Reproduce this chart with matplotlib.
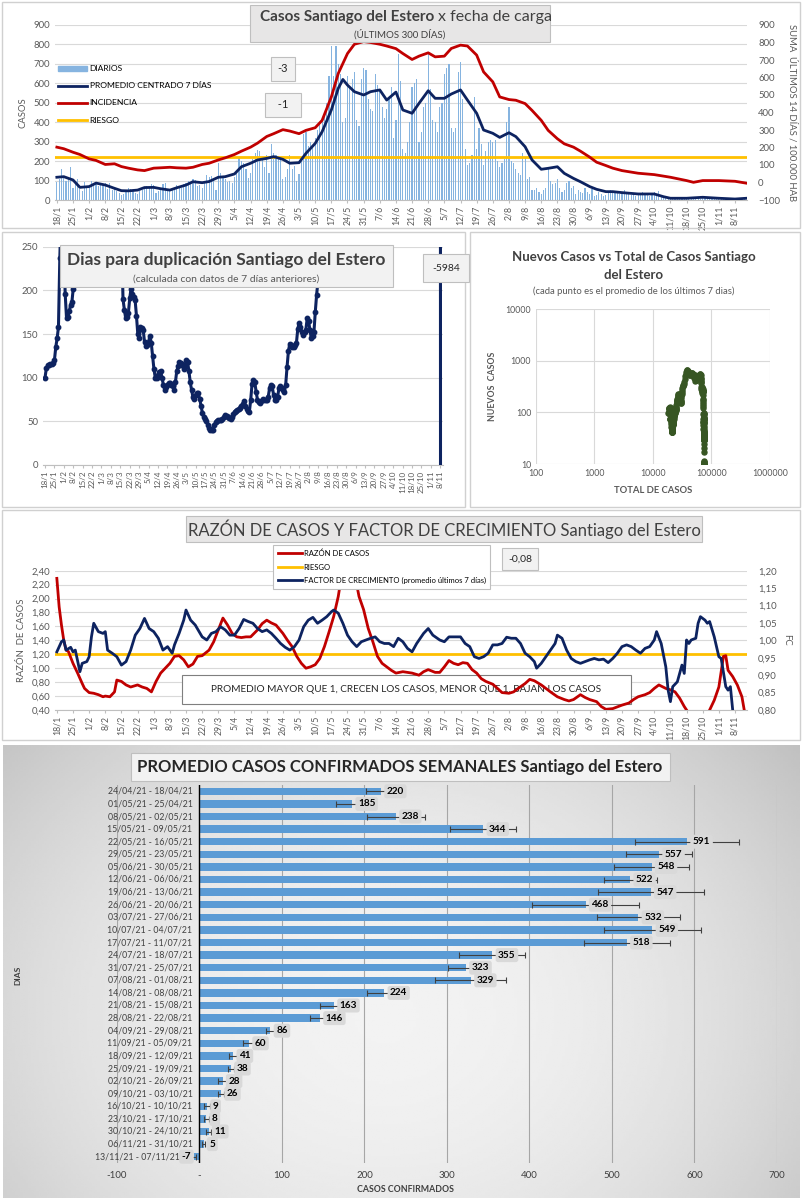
import datetime as dt
import numpy as np
import pandas as pd
import matplotlib
matplotlib.use('Agg')
import matplotlib.pyplot as plt
import matplotlib.transforms as mtransforms
from matplotlib.patches import Rectangle, Patch
from matplotlib.lines import Line2D
from matplotlib.ticker import FixedLocator, FixedFormatter

plt.rcParams['font.family'] = ['Lato', 'DejaVu Sans']

W, H = 803, 1200
START = dt.date(2021, 1, 18)

# ── datos ──
tick_dates = ['18/1', '25/1', '1/2', '8/2', '15/2', '22/2', '1/3', '8/3', '15/3', '22/3',
              '29/3', '5/4', '12/4', '19/4', '26/4', '3/5', '10/5', '17/5', '24/5', '31/5',
              '7/6', '14/6', '21/6', '28/6', '5/7', '12/7', '19/7', '26/7', '2/8', '9/8',
              '16/8', '23/8', '30/8', '6/9', '13/9', '20/9', '27/9', '4/10', '11/10', '18/10',
              '25/10', '1/11', '8/11']

# casos diarios (18/1 .. 13/11), una fila por semana
daily_cases = [
    95, 110, 160, 125, 100, 115, 170,
    60, 90, 110, 55, 45, 95, 65,
    60, 100, 85, 90, 70, 75, 80,
    85, 55, 90, 50, 60, 45, 35,
    25, 30, 40, 60, 55, 50, 35,
    30, 45, 50, 65, 70, 60, 80,
    75, 35, 45, 55, 80, 85, 55,
    45, 50, 60, 75, 70, 60, 80,
    85, 100, 95, 110, 105, 70, 75,
    60, 95, 130, 120, 125, 110, 50,
    190, 140, 120, 110, 95, 100, 85,
    120, 150, 215, 200, 190, 160, 115,
    140, 210, 240, 255, 250, 220, 170,
    230, 140, 290, 240, 230, 220, 210,
    110, 120, 160, 230, 160, 175, 100,
    135, 205, 340, 350, 280, 300, 270,
    320, 360, 400, 420, 440, 500, 640,
    790, 640, 790, 700, 650, 400, 420,
    640, 580, 620, 660, 410, 380, 620,
    680, 670, 520, 470, 460, 650, 590,
    570, 480, 420, 470, 530, 580, 320,
    410, 750, 610, 260, 240, 300, 400,
    580, 600, 620, 300, 350, 480, 500,
    750, 570, 410, 400, 350, 480, 500,
    650, 680, 700, 370, 350, 370, 660,
    710, 520, 260, 180, 190, 230, 530,
    260, 370, 290, 180, 250, 300, 310,
    300, 310, 200, 170, 190, 210, 400,
    480, 200, 190, 160, 140, 130, 240,
    220, 110, 120, 50, 50, 60, 40,
    30, 50, 60, 170, 100, 80, 90,
    110, 60, 40, 50, 90, 100, 60,
    70, 30, 50, 40, 35, 60, 40,
    30, 55, 20, 25, 40, 30, 20,
    25, 45, 50, 40, 45, 35, 30,
    35, 50, 40, 35, 25, 30, 20,
    30, 35, 40, 25, 30, 20, 35,
    40, 30, 45, 25, 15, 10, 5,
    10, 8, 5, 10, 12, 6, 4,
    8, 10, 12, 15, 10, 8, 5,
    12, 18, 10, 8, 6, 5, 4,
    3, 5, 8, 6, 4, 3, 2,
    2, 3, 0, 4, 3, 2,
]

avg7_dates = ['18/1', '21/1', '25/1', '28/1', '1/2', '4/2', '8/2', '12/2', '15/2', '18/2',
              '22/2', '25/2', '1/3', '4/3', '8/3', '11/3', '15/3', '18/3', '22/3', '25/3',
              '29/3', '1/4', '5/4', '8/4', '12/4', '15/4', '19/4', '22/4', '26/4', '29/4',
              '3/5', '6/5', '10/5', '13/5', '17/5', '20/5', '22/5', '24/5', '27/5', '31/5',
              '3/6', '7/6', '10/6', '14/6', '17/6', '21/6', '24/6', '28/6', '1/7', '5/7',
              '8/7', '12/7', '15/7', '19/7', '22/7', '26/7', '29/7', '2/8', '5/8', '9/8',
              '12/8', '16/8', '19/8', '23/8', '26/8', '30/8', '2/9', '6/9', '9/9', '13/9',
              '16/9', '20/9', '27/9', '4/10', '8/10', '11/10', '18/10', '25/10', '1/11', '8/11',
              '13/11']
avg7_vals = [117, 120, 103, 65, 69, 87, 77, 60, 48, 47,
             51, 64, 65, 58, 51, 63, 77, 94, 89, 95,
             117, 120, 134, 171, 189, 206, 214, 223, 209, 189,
             192, 240, 291, 351, 463, 574, 620, 591, 557, 540,
             557, 566, 514, 555, 463, 446, 497, 562, 523, 523,
             545, 566, 514, 446, 360, 343, 322, 346, 326, 274,
             206, 158, 163, 171, 137, 111, 94, 69, 55, 43,
             43, 38, 31, 31, 17, 9, 9, 14, 9, 5,
             9]

incid_dates = ['18/1', '21/1', '25/1', '28/1', '1/2', '4/2', '8/2', '12/2', '15/2', '18/2',
               '22/2', '25/2', '1/3', '4/3', '8/3', '11/3', '15/3', '18/3', '22/3', '25/3',
               '29/3', '1/4', '5/4', '8/4', '12/4', '15/4', '19/4', '22/4', '26/4', '29/4',
               '3/5', '6/5', '10/5', '13/5', '17/5', '20/5', '24/5', '27/5', '31/5', '3/6',
               '7/6', '10/6', '14/6', '17/6', '21/6', '24/6', '28/6', '1/7', '5/7', '8/7',
               '12/7', '15/7', '19/7', '22/7', '26/7', '29/7', '2/8', '5/8', '9/8', '12/8',
               '16/8', '19/8', '23/8', '26/8', '30/8', '2/9', '6/9', '9/9', '13/9', '16/9',
               '20/9', '27/9', '4/10', '11/10', '18/10', '21/10', '25/10', '1/11', '8/11', '13/11']
incid_vals = [202, 193, 173, 160, 135, 126, 103, 107, 91, 82,
              72, 68, 82, 84, 87, 84, 82, 87, 103, 110,
              129, 141, 160, 179, 202, 225, 263, 279, 302, 294,
              279, 298, 313, 355, 489, 623, 737, 790, 805, 800,
              790, 780, 765, 737, 703, 722, 741, 718, 722, 766,
              785, 780, 728, 632, 575, 489, 474, 470, 451, 412,
              355, 298, 250, 221, 202, 179, 145, 116, 97, 82,
              68, 53, 45, 30, 11, 1, 11, 11, 7, -4]
riesgo_casos = 222

# días para duplicación
dup_days = list(range(0, 23)) + [56] + list(range(57, 205)) + [294, 295]
dup_vals = [100, 111, 114, 115, 116, 116, 117, 120, 135, 145, 158, 237, 290, 320, 260, 196,
            168, 169, 176, 183, 187, 202, 280,
            300,
            260, 190, 178, 168, 170, 174, 191, 202, 196, 192,
            189, 171, 150, 145, 158, 157, 155, 141, 136, 137,
            141, 148, 140, 125, 110, 100, 100, 103, 106, 108,
            100, 92, 86, 89, 92, 94, 94, 92, 90, 86,
            95, 108, 113, 118, 117, 115, 110, 113, 120, 118,
            108, 95, 86, 78, 76, 80, 82, 82, 76, 68,
            60, 55, 53, 50, 46, 42, 40, 40, 40, 46,
            49, 50, 51, 52, 52, 53, 55, 57, 56, 55,
            54, 53, 55, 58, 61, 62, 63, 64, 65, 67,
            70, 73, 68, 64, 62, 61, 75, 93, 97, 95,
            84, 75, 72, 71, 73, 76, 75, 74, 75, 78,
            88, 92, 90, 80, 74, 75, 78, 88, 90, 88,
            86, 84, 92, 112, 130, 139, 137, 135, 135, 137,
            140, 156, 163, 158, 152, 149, 152, 155, 168, 165,
            155, 145, 148, 152, 175, 195, 210, 280,
            1000, -5984]

total_at_start = 18300

# razón de casos y factor de crecimiento
razon_dates = ['18/1', '19/1', '20/1', '21/1', '22/1', '23/1', '25/1', '27/1', '29/1', '30/1',
               '1/2', '3/2', '5/2', '7/2', '8/2', '10/2', '12/2', '13/2', '15/2', '17/2',
               '19/2', '22/2', '24/2', '26/2', '28/2', '2/3', '4/3', '6/3', '8/3', '10/3',
               '12/3', '14/3', '16/3', '18/3', '20/3', '22/3', '25/3', '27/3', '29/3', '31/3',
               '2/4', '4/4', '6/4', '8/4', '10/4', '12/4', '15/4', '17/4', '19/4', '21/4',
               '23/4', '26/4', '28/4', '30/4', '2/5', '4/5', '6/5', '8/5', '10/5', '12/5',
               '14/5', '16/5', '18/5', '20/5', '22/5', '24/5', '26/5', '28/5', '29/5', '31/5',
               '2/6', '4/6', '6/6', '8/6', '10/6', '12/6', '14/6', '17/6', '21/6', '24/6',
               '26/6', '28/6', '1/7', '3/7', '5/7', '7/7', '9/7', '11/7', '13/7', '15/7',
               '17/7', '19/7', '21/7', '23/7', '26/7', '28/7', '30/7', '2/8', '4/8', '6/8',
               '9/8', '11/8', '13/8', '16/8', '18/8', '20/8', '23/8', '26/8', '28/8', '30/8',
               '2/9', '4/9', '6/9', '9/9', '11/9', '13/9', '16/9', '20/9', '23/9', '25/9',
               '27/9', '30/9', '2/10', '4/10', '6/10', '9/10', '11/10', '13/10', '15/10', '17/10',
               '18/10', '21/10', '25/10', '28/10', '30/10', '1/11', '3/11', '4/11', '5/11', '7/11',
               '9/11', '11/11', '12/11', '13/11']
razon_vals = [2.29, 1.88, 1.62, 1.40, 1.26, 1.24, 1.07, 0.93, 0.78, 0.71,
              0.65, 0.64, 0.62, 0.59, 0.60, 0.59, 0.66, 0.83, 0.81, 0.76,
              0.73, 0.76, 0.73, 0.71, 0.66, 0.81, 0.93, 1.00, 1.07, 1.17,
              1.18, 1.12, 1.02, 1.06, 1.17, 1.18, 1.26, 1.38, 1.55, 1.72,
              1.62, 1.50, 1.45, 1.44, 1.45, 1.45, 1.55, 1.64, 1.69, 1.65,
              1.62, 1.50, 1.40, 1.31, 1.17, 1.07, 1.00, 1.02, 1.05, 1.14,
              1.31, 1.52, 1.74, 2.03, 2.45, 2.60, 2.50, 2.20, 2.03, 1.84,
              1.57, 1.38, 1.17, 1.07, 1.02, 0.97, 0.93, 0.95, 0.93, 0.90,
              0.95, 0.98, 0.94, 0.94, 1.02, 1.11, 1.07, 1.05, 1.08, 1.07,
              0.98, 0.93, 0.85, 0.81, 0.77, 0.71, 0.65, 0.64, 0.66, 0.71,
              0.78, 0.84, 0.82, 0.76, 0.71, 0.66, 0.59, 0.55, 0.53, 0.55,
              0.62, 0.58, 0.55, 0.52, 0.45, 0.41, 0.42, 0.47, 0.50, 0.55,
              0.59, 0.62, 0.65, 0.71, 0.76, 0.71, 0.69, 0.66, 0.57, 0.45,
              0.40, 0.25, 0.20, 0.40, 0.54, 0.73, 1.17, 1.18, 0.97, 0.88,
              0.76, 0.59, 0.40, 0.25]
riesgo_razon = 1.2

fc_dates = ['18/1', '20/1', '21/1', '22/1', '24/1', '25/1', '26/1', '28/1', '29/1', '31/1',
            '1/2', '2/2', '3/2', '5/2', '7/2', '8/2', '9/2', '11/2', '13/2', '15/2',
            '17/2', '19/2', '21/2', '23/2', '25/2', '27/2', '1/3', '3/3', '5/3', '7/3',
            '9/3', '10/3', '12/3', '14/3', '15/3', '17/3', '19/3', '22/3', '24/3', '26/3',
            '28/3', '30/3', '1/4', '3/4', '5/4', '7/4', '9/4', '11/4', '13/4', '15/4',
            '17/4', '19/4', '21/4', '23/4', '25/4', '27/4', '29/4', '1/5', '3/5', '5/5',
            '7/5', '9/5', '11/5', '13/5', '15/5', '17/5', '18/5', '20/5', '22/5', '24/5',
            '26/5', '28/5', '30/5', '1/6', '3/6', '5/6', '7/6', '9/6', '11/6', '13/6',
            '15/6', '17/6', '19/6', '21/6', '23/6', '26/6', '28/6', '30/6', '3/7', '5/7',
            '7/7', '9/7', '12/7', '14/7', '16/7', '18/7', '20/7', '22/7', '24/7', '26/7',
            '28/7', '30/7', '1/8', '3/8', '5/8', '7/8', '9/8', '11/8', '13/8', '14/8',
            '16/8', '18/8', '20/8', '22/8', '23/8', '25/8', '27/8', '29/8', '31/8', '2/9',
            '4/9', '6/9', '8/9', '10/9', '12/9', '14/9', '16/9', '18/9', '20/9', '22/9',
            '24/9', '26/9', '28/9', '30/9', '2/10', '4/10', '5/10', '7/10', '9/10', '10/10',
            '11/10', '12/10', '14/10', '16/10', '17/10', '18/10', '19/10', '20/10', '22/10', '23/10',
            '24/10', '26/10', '27/10', '28/10', '30/10', '1/11', '2/11', '4/11', '5/11', '6/11',
            '7/11', '8/11', '9/11']
fc_vals = [0.967, 0.996, 1.001, 0.972, 0.980, 0.967, 0.972, 0.910, 0.934, 0.939,
           0.953, 1.010, 1.049, 1.025, 1.020, 1.025, 0.972, 0.963, 0.953, 0.929,
           0.939, 0.972, 1.015, 1.034, 1.063, 1.034, 1.025, 1.006, 0.972, 0.982,
           0.963, 0.987, 1.020, 1.058, 1.087, 1.058, 1.044, 1.010, 1.001, 1.020,
           1.025, 1.039, 1.030, 1.015, 1.015, 1.034, 1.060, 1.054, 1.049, 1.034,
           1.025, 1.030, 1.020, 1.006, 0.991, 0.980, 0.972, 0.982, 1.001, 1.039,
           1.058, 1.066, 1.049, 1.058, 1.068, 1.082, 1.087, 1.078, 1.049, 1.015,
           0.996, 0.982, 0.996, 1.001, 1.006, 1.010, 0.996, 0.991, 0.991, 0.982,
           1.006, 0.996, 0.977, 0.967, 0.991, 1.020, 1.034, 1.015, 1.001, 0.996,
           1.010, 1.010, 1.010, 0.991, 0.982, 0.953, 0.948, 0.953, 0.963, 0.987,
           0.987, 0.991, 1.009, 1.006, 1.006, 0.991, 0.963, 0.953, 0.939, 0.920,
           0.934, 0.953, 0.972, 0.991, 1.015, 1.006, 0.972, 0.948, 0.939, 0.934,
           0.939, 0.944, 0.948, 0.944, 0.946, 0.936, 0.948, 0.963, 0.982, 0.987,
           0.982, 0.972, 0.963, 0.977, 0.982, 1.001, 1.025, 0.991, 0.924, 0.857,
           0.824, 0.867, 0.881, 0.929, 0.905, 1.001, 0.991, 1.001, 1.006, 1.049,
           1.068, 1.058, 1.049, 1.054, 1.010, 0.953, 0.948, 0.867, 0.857, 0.867,
           0.800, 0.750, 0.700]

# promedio semanal
week_labels = ['24/04/21 - 18/04/21', '01/05/21 - 25/04/21', '08/05/21 - 02/05/21',
               '15/05/21 - 09/05/21', '22/05/21 - 16/05/21', '29/05/21 - 23/05/21',
               '05/06/21 - 30/05/21', '12/06/21 - 06/06/21', '19/06/21 - 13/06/21',
               '26/06/21 - 20/06/21', '03/07/21 - 27/06/21', '10/07/21 - 04/07/21',
               '17/07/21 - 11/07/21', '24/07/21 - 18/07/21', '31/07/21 - 25/07/21',
               '07/08/21 - 01/08/21', '14/08/21 - 08/08/21', '21/08/21 - 15/08/21',
               '28/08/21 - 22/08/21', '04/09/21 - 29/08/21', '11/09/21 - 05/09/21',
               '18/09/21 - 12/09/21', '25/09/21 - 19/09/21', '02/10/21 - 26/09/21',
               '09/10/21 - 03/10/21', '16/10/21 - 10/10/21', '23/10/21 - 17/10/21',
               '30/10/21 - 24/10/21', '06/11/21 - 31/10/21', '13/11/21 - 07/11/21']
weekly_avg = [220, 185, 238, 344, 591, 557, 548, 522, 547, 468, 532, 549, 518, 355, 323,
              329, 224, 163, 146, 86, 60, 41, 38, 28, 26, 9, 8, 11, 5, -7]
weekly_err = [18, 20, 35, 40, 63, 40, 45, 32, 64, 65, 50, 59, 52, 40, 22,
              43, 21, 17, 12, 5, 7, 5, 4, 5, 4, 4, 3, 3, 2, 3]

# ── colores ──
NAVY = '#0D2360'
RED = '#C00000'
YELLOW = '#FFC000'
GRID = '#D9D9D9'
TXT = '#595959'
DARK = '#404040'


def day(s):
    d, m = s.split('/')
    return (dt.date(2021, int(m), int(d)) - START).days


def fx(px):
    return px / W


def fy(py):
    return 1 - py / H


def ax_rect(x0, y0, x1, y1):
    return [fx(x0), fy(y1), (x1 - x0) / W, (y1 - y0) / H]


def frame(x0, y0, x1, y1):
    fig.patches.append(Rectangle((fx(x0), fy(y1)), (x1 - x0) / W, (y1 - y0) / H,
                                 transform=fig.transFigure, fc='none', ec='#D0D0D0',
                                 lw=1, zorder=0))


def boxtext(x, y, s, size=8, pad='0.55', **kw):
    fig.text(fx(x), fy(y), s, ha='center', va='center', fontsize=size, color='#262626',
             bbox=dict(boxstyle='square,pad=' + pad, fc='#F2F2F2', ec='#BFBFBF', lw=0.8),
             **kw)


def date_axis(ax, size=6.3):
    ax.set_xticks([day(s) for s in tick_dates])
    ax.set_xticklabels(tick_dates, rotation=90, fontsize=size, color=TXT)
    ax.tick_params(axis='x', length=2, color='#BFBFBF', pad=2)


fig = plt.figure(figsize=(W / 100, H / 100), dpi=100)

frame(2, 2, 800, 228)
frame(2, 232, 465, 507)
frame(470, 232, 800, 507)
frame(2, 510, 800, 740)

# ── panel 1: casos por fecha de carga ──
days = np.arange(len(daily_cases))
ax1 = fig.add_axes(ax_rect(55, 25, 747, 200))
ax1.bar(days, daily_cases, width=0.5, color='#86B4E0', zorder=2)
ax1.plot([day(s) for s in avg7_dates], avg7_vals, color=NAVY, lw=2, zorder=4)
ax1.axhline(riesgo_casos, color=YELLOW, lw=2, zorder=3)
ax1.set_xlim(-0.8, 299.2)
ax1.set_ylim(0, 900)
ax1.set_yticks(range(0, 901, 100))
ax1.tick_params(axis='y', length=0, labelsize=6.8, labelcolor=TXT)
ax1.grid(axis='y', color=GRID, lw=0.8, zorder=0)
ax1.set_axisbelow(True)
date_axis(ax1)
for sp in ['top', 'right', 'left']:
    ax1.spines[sp].set_visible(False)
ax1.spines['bottom'].set_color('#BFBFBF')
ax1.set_ylabel('CASOS', fontsize=6.8, color=TXT, labelpad=4)

ax1b = ax1.twinx()
ax1b.plot([day(s) for s in incid_dates], incid_vals, color=RED, lw=2, zorder=3)
ax1b.set_ylim(-100, 900)
ax1b.set_yticks(range(-100, 901, 100))
ax1b.tick_params(axis='y', length=0, labelsize=6.8, labelcolor=TXT, pad=8)
for sp in ax1b.spines.values():
    sp.set_visible(False)
ax1b.set_ylabel('SUMA  ÚLTIMOS 14 DÍAS / 100.000 HAB', fontsize=6.8, color=TXT,
                rotation=270, labelpad=12)
handles = [Patch(color='#86B4E0'), Line2D([], [], color=NAVY, lw=2),
           Line2D([], [], color=RED, lw=2), Line2D([], [], color=YELLOW, lw=2)]
ax1b.legend(handles, ['DIARIOS', 'PROMEDIO CENTRADO 7 DÍAS', 'INCIDENCIA', 'RIESGO'],
            loc='upper left', bbox_to_anchor=(0.0, 0.79), frameon=False, fontsize=6.1,
            handlelength=3.4, handleheight=0.5, labelspacing=1.2, handletextpad=0.3,
            borderaxespad=0)

fig.patches.append(Rectangle((fx(250), fy(42)), 300 / W, 37 / H, transform=fig.transFigure,
                             fc='#E7E6E6', ec='#BFBFBF', lw=0.8, zorder=5))
fig.text(fx(434), fy(17), 'Casos Santiago del Estero', ha='right', va='center',
         fontsize=11, weight='bold', color=DARK, zorder=6)
fig.text(fx(438), fy(17), 'x fecha de carga', ha='left', va='center',
         fontsize=11.5, color=DARK, zorder=6)
fig.text(fx(400), fy(34), '(ÚLTIMOS 300 DÍAS)', ha='center', va='center',
         fontsize=7, color=DARK, zorder=6)
boxtext(283, 69, '-3', pad='0.6')
boxtext(283, 105, '  -1  ', pad='0.6')

# ── panel 2: días para duplicación ──
ax2 = fig.add_axes(ax_rect(43, 246.7, 443, 465))
ax2.plot(dup_days, dup_vals, '-o', color=NAVY, lw=2.2, ms=3.2, zorder=3)
ax2.set_xlim(-1.5, 296)
ax2.set_ylim(0, 250)
ax2.set_yticks(range(0, 251, 50))
ax2.tick_params(axis='y', length=0, labelsize=6.8, labelcolor=TXT)
ax2.grid(axis='y', color=GRID, lw=0.8)
ax2.set_axisbelow(True)
date_axis(ax2, size=5.8)
for sp in ['top', 'right', 'left']:
    ax2.spines[sp].set_visible(False)
ax2.spines['bottom'].set_color('#BFBFBF')

fig.patches.append(Rectangle((fx(60), fy(287)), 333 / W, 42 / H, transform=fig.transFigure,
                             fc='#F2F2F2', ec='#BFBFBF', lw=0.8, zorder=5))
fig.text(fx(226), fy(260), 'Dias para duplicación Santiago del Estero', ha='center',
         va='center', fontsize=12.5, weight='bold', color=DARK, zorder=6)
fig.text(fx(226), fy(279), '(calculada con datos de 7 días anteriores)', ha='center',
         va='center', fontsize=7.5, color=TXT, zorder=6)
boxtext(446, 268, '-5984', size=7.5, pad='0.9')

# ── panel 3: nuevos vs total ──
total_cases = total_at_start + np.cumsum(daily_cases)
new_cases = pd.Series(daily_cases).rolling(7, min_periods=1).mean().to_numpy()
ax3 = fig.add_axes(ax_rect(536, 309, 770, 464))
ax3.scatter(total_cases, new_cases, s=13, color='#375623', zorder=3)
ax3.set_xscale('log')
ax3.set_yscale('log')
ax3.set_xlim(100, 1e6)
ax3.set_ylim(10, 1e4)
ax3.xaxis.set_major_locator(FixedLocator([1e2, 1e3, 1e4, 1e5, 1e6]))
ax3.xaxis.set_major_formatter(FixedFormatter(['100', '1000', '10000', '100000', '1000000']))
ax3.yaxis.set_major_locator(FixedLocator([10, 100, 1000, 10000]))
ax3.yaxis.set_major_formatter(FixedFormatter(['10', '100', '1000', '10000']))
ax3.minorticks_off()
ax3.tick_params(length=0, labelsize=6.3, labelcolor=TXT)
ax3.grid(True, color=GRID, lw=0.8)
ax3.set_axisbelow(True)
for sp in ax3.spines.values():
    sp.set_visible(False)
ax3.set_xlabel('TOTAL DE CASOS', fontsize=6.8, weight='bold', color=TXT, labelpad=6)
ax3.set_ylabel('NUEVOS  CASOS', fontsize=6.3, weight='bold', color=TXT, labelpad=6)
fig.text(fx(634), fy(257), 'Nuevos Casos vs Total de Casos Santiago', ha='center',
         va='center', fontsize=9.5, weight='bold', color=DARK)
fig.text(fx(634), fy(275), 'del Estero', ha='center', va='center', fontsize=9.5,
         weight='bold', color=DARK)
fig.text(fx(634), fy(291), '(cada punto es el promedio de los últimos 7 dias)', ha='center',
         va='center', fontsize=6.8, color=TXT)

# ── panel 4: razón de casos y factor de crecimiento ──
ax4 = fig.add_axes(ax_rect(55, 570.7, 747, 710))
ax4.plot([day(s) for s in razon_dates], razon_vals, color=RED, lw=2, zorder=3)
ax4.axhline(riesgo_razon, color=YELLOW, lw=2, zorder=2.5)
ax4.set_xlim(-0.8, 299.2)
ax4.set_ylim(0.4, 2.4)
rt = np.round(np.arange(0.4, 2.41, 0.2), 2)
ax4.set_yticks(rt)
ax4.set_yticklabels([f'{v:.2f}'.replace('.', ',') for v in rt])
ax4.tick_params(axis='y', length=0, labelsize=6.8, labelcolor=TXT)
ax4.grid(axis='y', color=GRID, lw=0.8)
ax4.set_axisbelow(True)
date_axis(ax4)
for sp in ['top', 'right', 'left']:
    ax4.spines[sp].set_visible(False)
ax4.spines['bottom'].set_color('#BFBFBF')
ax4.set_ylabel('RAZÓN  DE CASOS', fontsize=6.8, color=TXT, labelpad=4)
ax4.add_patch(Rectangle((fx(182), fy(704)), 449 / W, 29 / H, transform=fig.transFigure,
                        fc='white', ec='#7F7F7F', lw=0.8, zorder=2))
ax4.text(fx(406), fy(690), 'PROMEDIO MAYOR QUE 1, CRECEN LOS CASOS, MENOR QUE 1, BAJAN LOS CASOS',
         transform=fig.transFigure, ha='center', va='center', fontsize=7.2, color='#262626',
         zorder=2.2)

ax4b = ax4.twinx()
ax4b.plot([day(s) for s in fc_dates], fc_vals, color=NAVY, lw=2, zorder=3)
ax4b.set_ylim(0.8, 1.2)
ft = np.round(np.arange(0.8, 1.201, 0.05), 2)
ax4b.set_yticks(ft)
ax4b.set_yticklabels([f'{v:.2f}'.replace('.', ',') for v in ft])
ax4b.tick_params(axis='y', length=0, labelsize=6.8, labelcolor=TXT, pad=8)
for sp in ax4b.spines.values():
    sp.set_visible(False)
ax4b.set_ylabel('FC', fontsize=6.8, color=TXT, rotation=270, labelpad=10)
handles4 = [Line2D([], [], color=RED, lw=2), Line2D([], [], color=YELLOW, lw=2),
            Line2D([], [], color=NAVY, lw=2)]
leg4 = ax4b.legend(handles4, ['RAZÓN DE CASOS', 'RIESGO',
                              'FACTOR DE CRECIMIENTO (promedio últimos 7 días)'],
                   loc='upper left', bbox_to_anchor=(0.315, 1.185), fontsize=5.5,
                   handlelength=3.2, labelspacing=0.85, handletextpad=0.2,
                   fancybox=False, borderaxespad=0, borderpad=0.6)
leg4.get_frame().set_edgecolor('#BFBFBF')
leg4.get_frame().set_linewidth(0.8)
leg4.get_frame().set_alpha(1)

fig.patches.append(Rectangle((fx(186), fy(542)), 516 / W, 26 / H, transform=fig.transFigure,
                             fc='#E7E6E6', ec='#BFBFBF', lw=0.8, zorder=5))
fig.text(fx(444), fy(529), 'RAZÓN DE CASOS Y FACTOR DE CRECIMIENTO Santiago del Estero',
         ha='center', va='center', fontsize=12, color=DARK, zorder=6)
boxtext(520, 559, '-0,08', size=7.5, pad='0.6')

# ── panel 5: promedio semanal ──
bg = fig.add_axes(ax_rect(3, 745, 800, 1198))
yy, xx = np.mgrid[0:1:200j, 0:1:300j]
rr = ((xx - 0.48) / 0.62) ** 2 + ((yy - 0.6) / 0.9) ** 2
bg.imshow(np.clip(0.95 - 0.17 * rr, 0, 1), cmap='gray', vmin=0, vmax=1,
          aspect='auto', extent=[0, 1, 0, 1], interpolation='bilinear')
bg.set_axis_off()

ax5 = fig.add_axes(ax_rect(117, 785, 777, 1163))
ax5.set_facecolor('none')
ypos = np.arange(len(weekly_avg))
ax5.barh(ypos, weekly_avg, height=0.6, color='#5B9BD5', zorder=2)
ax5.errorbar(weekly_avg, ypos, xerr=weekly_err, fmt='none', ecolor='#404040',
             elinewidth=0.8, capsize=2, capthick=0.8, zorder=3)
for y, v in zip(ypos, weekly_avg):
    x = v + 7 if v >= 0 else v - 3
    ax5.text(x, y, str(v), ha='left' if v >= 0 else 'right', va='center', fontsize=7.2,
             weight='bold', color='black', zorder=4,
             bbox=dict(boxstyle='round,pad=0.25', fc='#D9D9D9', ec='none'))
lbl_tr = mtransforms.offset_copy(ax5.transData, fig=fig, x=-7, y=0, units='dots')
for y, s in zip(ypos, week_labels):
    # la última etiqueta se acorta a la izquierda para dejar sitio al valor negativo
    ax5.text(0, y, s, transform=lbl_tr if y < len(week_labels) - 1 else
             mtransforms.offset_copy(ax5.transData, fig=fig, x=-20, y=0, units='dots'),
             ha='right', va='center', fontsize=6.3, color=DARK)
ax5.set_xlim(-100, 700)
ax5.set_ylim(len(weekly_avg) - 0.5, -0.5)
ax5.set_xticks(range(-100, 701, 100))
ax5.set_xticklabels(['-100', '-', '100', '200', '300', '400', '500', '600', '700'])
ax5.set_yticks([])
ax5.tick_params(axis='both', length=0, labelsize=7, labelcolor=DARK)
ax5.tick_params(axis='x', pad=6)
ax5.grid(axis='x', color='#A6A6A6', lw=0.8)
ax5.set_axisbelow(True)
for sp in ax5.spines.values():
    sp.set_visible(False)
ax5.axvline(0, color='black', lw=1, zorder=2.5)
fig.text(fx(405), fy(1190), 'CASOS CONFIRMADOS', ha='center', va='center', fontsize=6.3,
         weight='bold', color=DARK)
fig.text(fx(18), fy(975), 'DIAS', ha='center', va='center', fontsize=6, weight='bold',
         color=DARK, rotation=90)

fig.patches.append(Rectangle((fx(131), fy(781)), 539 / W, 28 / H, transform=fig.transFigure,
                             fc='#F2F2F2', ec='#BFBFBF', lw=0.8, zorder=5))
fig.text(fx(400), fy(767), 'PROMEDIO CASOS CONFIRMADOS SEMANALES Santiago del Estero',
         ha='center', va='center', fontsize=12, weight='bold', color='#262626', zorder=6)

fig.savefig('out.png', dpi=100, facecolor='white')
plt.close(fig)
